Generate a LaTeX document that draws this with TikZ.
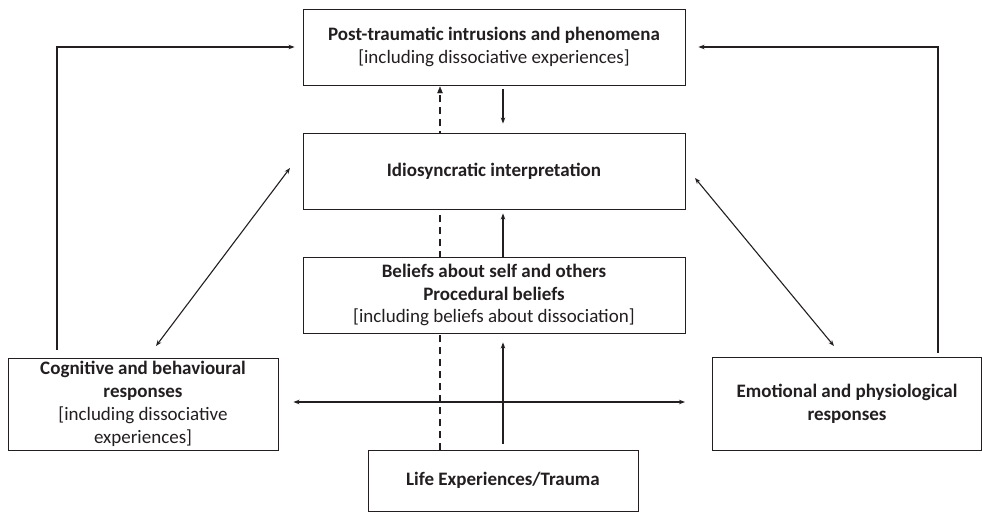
\documentclass[tikz,border=0pt]{standalone}
\usepackage{fontspec}
\setmainfont{Carlito}
\usetikzlibrary{arrows.meta}
\definecolor{ink}{HTML}{231F20}
\begin{document}
\begin{tikzpicture}[x=1pt,y=-1pt,
  box/.style={draw=ink,line width=0.9pt,fill=white,inner sep=0pt,align=center,text=ink,
    font=\fontsize{19}{22.8}\selectfont},
  arr/.style={draw=ink,line width=1.3pt,-{Stealth[length=6pt,width=4.5pt]}},
  darr/.style={draw=ink,line width=1.1pt,{Stealth[length=6pt,width=4.5pt]}-{Stealth[length=6pt,width=4.5pt]}}]
\useasboundingbox (0,0) rectangle (982,512);
\coordinate (dx) at (440,0);
\coordinate (lc) at (57,47);
\coordinate (rc) at (938,47);
\coordinate (d1a) at (290,168);
\coordinate (d1b) at (156,346);
\coordinate (d2a) at (695,178);
\coordinate (d2b) at (834,346);
% dashed line behind boxes
\draw[draw=ink,line width=1.3pt,dash pattern=on 7pt off 5pt] (440,450) -- (440,92);
\draw[draw=ink,fill=ink] (440,87) -- (437.5,93) -- (442.5,93) -- cycle;
\node[box,minimum width=382pt,minimum height=76pt] (top) at (494,47)
  {\textbf{Post-traumatic intrusions and phenomena}\\{}[including dissociative experiences]};
\node[box,minimum width=382pt,minimum height=76pt] (idio) at (494,171)
  {\textbf{Idiosyncratic interpretation}};
\node[box,minimum width=382pt,minimum height=76pt] (bel) at (494,295)
  {\textbf{Beliefs about self and others}\\\textbf{Procedural beliefs}\\{}[including beliefs about dissociation]};
\node[box,minimum width=270pt,minimum height=92pt] (cog) at (143,404)
  {\textbf{Cognitive and behavioural}\\\textbf{responses}\\{}[including dissociative\\experiences]};
\node[box,minimum width=269pt,minimum height=93pt] (emo) at (847,403.5)
  {\textbf{Emotional and physiological}\\\textbf{responses}};
\node[box,minimum width=270pt,minimum height=61pt] (life) at (503,480.5)
  {\textbf{Life Experiences/Trauma}};
% vertical solid arrows
\draw[arr,shorten <=4pt,shorten >=9pt] (top.south -| life.north) -- (idio.north -| life.north);
\draw[arr,shorten >=4pt] (bel.north -| life.north) -- (idio.south -| life.north);
\draw[arr,shorten <=6pt,shorten >=9pt] (life.north) -- (bel.south -| life.north);
% horizontal double arrow
\draw[darr] (cog.east) ++(15,-2) coordinate (h1) -- (685,402) coordinate (h2);
% feedback loops
\draw[arr,line width=1.1pt,shorten >=8pt] ([shift={(0,-8)}]cog.north -| lc) -- (lc) -- (top.west);
\draw[arr,line width=1.1pt,shorten >=13pt] ([shift={(0,-4)}]emo.north -| rc) -- (rc) -- (top.east);
% diagonals
\draw[darr] (d1a) -- (d1b);
\draw[darr] (d2a) -- (d2b);
\end{tikzpicture}
\end{document}
